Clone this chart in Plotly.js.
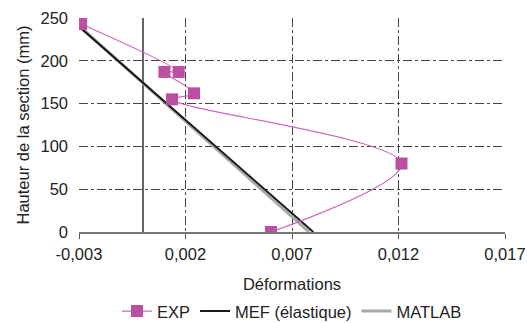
<!DOCTYPE html>
<html>
<head>
<meta charset="utf-8">
<script src="https://cdn.plot.ly/plotly-3.0.1.min.js"></script>
<style>html,body{margin:0;padding:0;background:#fff;}#chart{width:527px;height:323px;}</style>
</head>
<body>
<div id="chart"></div>
<script>
const expX = [-0.0029, 0.00168, 0.00101, 0.0024, 0.00137, 0.01214, 0.00601];
const expY = [243, 187, 187, 162, 155, 80, 0];
const mefX = [-0.003, 0.008];
const mefY = [240, 0];
const matlabX = [-0.003, 0.0078];
const matlabY = [241, 0];
const xTicks = [-0.003, 0.002, 0.007, 0.012, 0.017];
const xTickLabels = ['-0,003', '0,002', '0,007', '0,012', '0,017'];
const yTicks = [0, 50, 100, 150, 200, 250];

const font = {family: 'Liberation Sans, Arial, sans-serif', size: 16.5, color: '#222'};

const traces = [
  {x: matlabX, y: matlabY, name: 'MATLAB', mode: 'lines',
   line: {color: '#a8a8a8', width: 3}, legendrank: 3},
  {x: mefX, y: mefY, name: 'MEF (élastique)', mode: 'lines',
   line: {color: '#1a1a1a', width: 2}, legendrank: 2},
  {x: expX, y: expY, name: 'EXP', mode: 'lines+markers',
   line: {color: '#cc66bb', width: 1.2, shape: 'spline', smoothing: 1},
   marker: {symbol: 'square', size: 12, color: '#bb50a2'}, legendrank: 1}
];

const layout = {
  width: 527, height: 323,
  margin: {l: 79, r: 22, t: 18, b: 91},
  paper_bgcolor: '#fff', plot_bgcolor: '#fff',
  font: font,
  showlegend: true,
  legend: {orientation: 'h', x: 0.5, xref: 'paper', xanchor: 'center',
           y: 0.036, yref: 'container', yanchor: 'middle',
           font: font, traceorder: 'normal', itemwidth: 30},
  xaxis: {
    range: [-0.003, 0.017], tickvals: xTicks, ticktext: xTickLabels,
    showgrid: true, gridcolor: '#444', griddash: 'dashdot', gridwidth: 1,
    zeroline: true, zerolinecolor: '#666', zerolinewidth: 1.2,
    showline: true, linecolor: '#777', linewidth: 1.5,
    ticks: 'outside', ticklen: 5, tickcolor: '#555', ticklabelstandoff: 2,
    title: {text: 'Déformations', font: font, standoff: 16},
    fixedrange: true
  },
  yaxis: {
    range: [0, 250], tickvals: yTicks,
    showgrid: true, gridcolor: '#444', griddash: 'dashdot', gridwidth: 1,
    zeroline: false, showline: false,
    ticks: '', ticklabelstandoff: 10,
    title: {text: 'Hauteur de la section (mm)', font: font, standoff: 6},
    fixedrange: true
  }
};

Plotly.newPlot('chart', traces, layout, {displayModeBar: false, staticPlot: true});
</script>
</body>
</html>
